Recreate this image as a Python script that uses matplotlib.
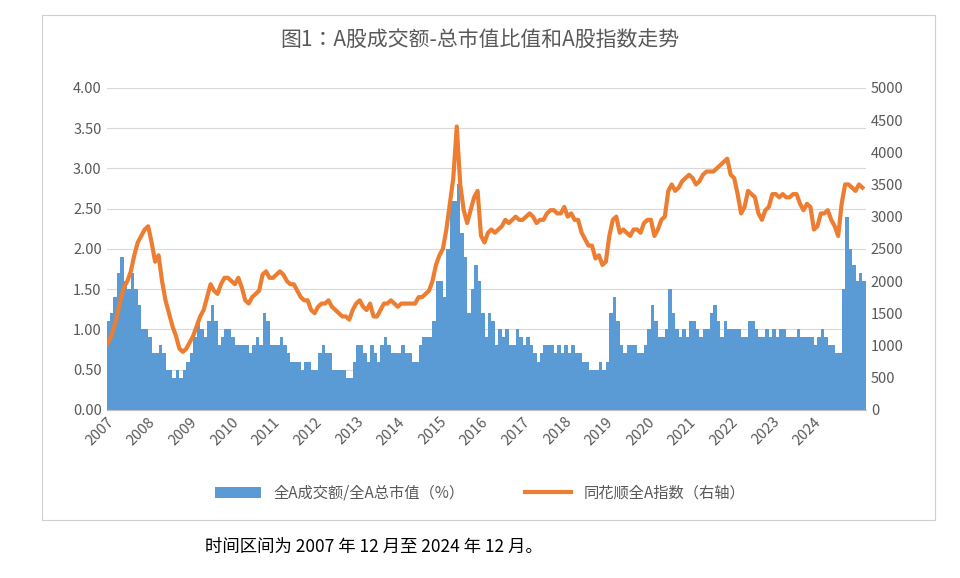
import matplotlib
matplotlib.use("Agg")
import matplotlib.pyplot as plt
from matplotlib.patches import Rectangle
from matplotlib import font_manager as fm
import numpy as np

cjk = [f.name for f in fm.fontManager.ttflist if 'CJK' in f.name]
pref = [n for n in ['Noto Sans CJK SC', 'Noto Sans CJK JP', 'Noto Sans CJK TC', 'Noto Sans CJK KR'] if n in cjk]
plt.rcParams['font.family'] = 'sans-serif'
plt.rcParams['font.sans-serif'] = pref + cjk[:1] + ['DejaVu Sans']

years = list(range(2007, 2026))
index_vals = [
 [1000,1100,1250,1450,1700,1900,2000,2150,2400,2600,2700,2800],
 [2850,2600,2300,2400,2000,1700,1500,1300,1150,950,900,950],
 [1050,1150,1300,1450,1550,1750,1950,1850,1800,1950,2050,2050],
 [2000,1950,2050,1900,1700,1650,1750,1800,1850,2100,2150,2050],
 [2050,2100,2150,2100,2000,1950,1950,1850,1750,1700,1700,1550],
 [1500,1600,1650,1650,1700,1600,1550,1500,1450,1450,1400,1550],
 [1650,1700,1600,1550,1650,1450,1450,1550,1650,1650,1700,1650],
 [1600,1650,1650,1650,1650,1650,1750,1750,1800,1850,2000,2250],
 [2400,2500,2800,3200,3600,4400,3500,3100,2900,3100,3300,3400],
 [2700,2600,2750,2800,2750,2800,2850,2950,2900,2950,3000,2950],
 [2950,3000,3050,3000,2900,2950,2950,3050,3100,3100,3050,3050],
 [3150,3000,3050,2950,2950,2750,2650,2550,2550,2350,2400,2250],
 [2300,2700,2950,3000,2750,2800,2750,2700,2800,2800,2750,2900],
 [2950,2950,2700,2800,2950,3000,3400,3500,3400,3450,3550,3600],
 [3650,3600,3500,3550,3650,3700,3700,3700,3750,3800,3850,3900],
 [3650,3600,3350,3050,3150,3400,3350,3300,3050,2950,3100,3150],
 [3350,3350,3300,3350,3300,3300,3350,3350,3200,3100,3200,3150],
 [2800,2850,3050,3050,3100,2950,2850,2700,3200,3500,3500,3450],
 [3400,3500,3450],
]
turnover_vals = [
 [1.1,1.2,1.4,1.7,1.9,1.6,1.5,1.7,1.5,1.3,1.0,1.0],
 [0.9,0.7,0.7,0.8,0.7,0.5,0.5,0.4,0.5,0.4,0.5,0.6],
 [0.7,0.9,1.1,1.0,0.9,1.1,1.3,1.1,0.8,0.9,1.0,1.0],
 [0.9,0.8,0.8,0.8,0.8,0.7,0.8,0.9,0.8,1.2,1.1,0.8],
 [0.8,0.8,0.9,0.8,0.7,0.6,0.6,0.6,0.5,0.6,0.6,0.5],
 [0.5,0.7,0.8,0.7,0.7,0.5,0.5,0.5,0.5,0.4,0.4,0.6],
 [0.8,0.8,0.7,0.6,0.8,0.7,0.6,0.8,0.9,0.8,0.7,0.7],
 [0.7,0.8,0.7,0.7,0.6,0.6,0.8,0.9,0.9,0.9,1.1,1.6],
 [1.6,1.4,2.0,2.6,2.6,2.8,2.2,1.9,1.2,1.5,1.8,1.6],
 [1.2,0.9,1.2,1.1,0.8,1.0,0.9,1.0,0.8,0.8,1.0,0.9],
 [0.8,0.9,0.8,0.7,0.6,0.7,0.8,0.8,0.8,0.7,0.8,0.7],
 [0.8,0.7,0.8,0.7,0.7,0.6,0.6,0.5,0.5,0.5,0.6,0.5],
 [0.6,1.2,1.4,1.1,0.8,0.7,0.8,0.8,0.8,0.7,0.7,0.8],
 [1.0,1.3,1.1,0.9,0.9,1.0,1.5,1.2,1.0,0.9,1.0,0.9],
 [1.1,1.1,1.0,0.9,1.0,1.0,1.2,1.3,1.1,0.9,1.1,1.0],
 [1.0,1.0,1.0,0.9,0.9,1.1,1.1,1.0,0.9,0.9,1.0,0.9],
 [1.0,0.9,1.0,1.0,0.9,0.9,0.9,1.0,0.9,0.9,0.9,0.9],
 [0.8,0.9,1.0,0.9,0.8,0.8,0.7,0.7,1.5,2.4,2.0,1.8],
 [1.6,1.7,1.6],
]
year_labels = [str(y) for y in range(2007, 2025)]

t, idx, tov = [], [], []
for y, iv, tv in zip(years, index_vals, turnover_vals):
    for m, (a, b) in enumerate(zip(iv, tv)):
        t.append(y + m / 12)
        idx.append(a)
        tov.append(b)

fig = plt.figure(figsize=(9.6, 5.78), dpi=100)
fig.patches.append(Rectangle((0.044, 0.100), 0.930, 0.874, transform=fig.transFigure,
                             fill=False, edgecolor='#d0d0d0', linewidth=0.8))
ax = fig.add_axes([0.111, 0.291, 0.791, 0.557])
ax2 = ax.twinx()
bars = ax.bar(t, tov, width=1/12, align='edge', color='#5B9BD5', linewidth=0)
line, = ax2.plot(t, idx, color='#ED7D31', linewidth=3)

ax.set_xlim(2007, 2025.25)
ax.set_ylim(0, 4)
ax2.set_ylim(0, 5000)
ax.set_yticks(np.arange(0, 4.01, 0.5))
ax.set_yticklabels([f"{v:.2f}" for v in np.arange(0, 4.01, 0.5)])
ax2.set_yticks(range(0, 5001, 500))
ax.set_xticks(range(2007, 2025))
ax.set_xticklabels(year_labels, rotation=45, ha='right', rotation_mode='anchor')
ax.grid(axis='y', color='#d9d9d9', linewidth=0.8)
ax.set_axisbelow(True)
for a in (ax, ax2):
    for s in a.spines.values():
        s.set_visible(False)
    a.tick_params(length=0, colors='#595959', labelsize=10.5)
ax.spines['bottom'].set_visible(True)
ax.spines['bottom'].set_color('#bfbfbf')

fig.text(0.5, 0.92, "图1：A股成交额-总市值比值和A股指数走势", ha='center', fontsize=15, color='#595959')
fig.legend([bars, line], ["全A成交额/全A总市值（%）", "同花顺全A指数（右轴）"], loc='center',
           bbox_to_anchor=(0.5, 0.147), ncol=2, frameon=False, fontsize=11,
           labelcolor='#595959', columnspacing=4, handlelength=3)
fig.text(0.214, 0.045, "时间区间为 2007 年 12 月至 2024 年 12 月。", fontsize=12.5, color='black')
fig.savefig("out.png", dpi=100)
